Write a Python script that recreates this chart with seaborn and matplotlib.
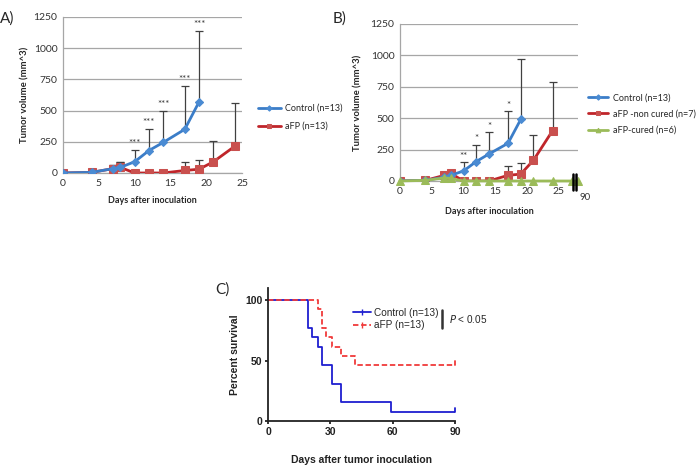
import numpy as np
import pandas as pd
import matplotlib
matplotlib.use("Agg")
import matplotlib.pyplot as plt
from matplotlib.lines import Line2D
import seaborn as sns

# ---- Panel A data ----
a_ctrl_days = [0, 4, 7, 8, 10, 12, 14, 17, 19]
a_ctrl_vol = [0, 5, 35, 45, 90, 180, 245, 350, 570]
a_ctrl_top = [0, 5, 60, 85, 185, 355, 500, 700, 1140]
a_afp_days = [0, 4, 7, 8, 10, 12, 14, 17, 19, 21, 24]
a_afp_vol = [0, 5, 35, 45, 0, 0, 0, 20, 30, 90, 215]
a_afp_top = [0, 5, 60, 85, 0, 0, 0, 85, 100, 255, 560]
a_star_days = [10, 12, 14, 17, 19]
a_star_text = ["***", "***", "***", "***", "***"]

# ---- Panel B data ----
b_ctrl_days = [0, 4, 7, 8, 10, 12, 14, 17, 19]
b_ctrl_vol = [0, 5, 30, 45, 80, 155, 215, 300, 490]
b_ctrl_top = [0, 5, 30, 45, 150, 290, 390, 555, 975]
b_nc_days = [0, 4, 7, 8, 10, 12, 14, 17, 19, 21, 24]
b_nc_vol = [0, 5, 45, 60, 0, 0, 0, 45, 55, 165, 400]
b_nc_top = [0, 5, 45, 60, 0, 0, 0, 120, 145, 365, 785]
b_cur_days = [0, 4, 7, 8, 10, 12, 14, 17, 19, 21, 24, 27, 90]
b_cur_vol = [0, 5, 25, 20, 0, 0, 0, 0, 0, 0, 0, 0, 0]
b_star_days = [10, 12, 14, 17]
b_star_text = ["**", "*", "*", "*"]
b_star_y = [150, 290, 390, 555]

# ---- Panel C data (Kaplan-Meier steps) ----
c_ctrl_t = [0, 19, 21, 24, 26, 31, 35, 59, 90]
c_ctrl_s = [100, 76.9, 69.2, 61.5, 46.2, 30.8, 15.4, 7.7, 7.7]
c_afp_t = [0, 24, 26, 28, 31, 35, 42, 90]
c_afp_s = [100, 92.3, 76.9, 69.2, 61.5, 53.8, 46.2, 46.2]

BLUE = "#3b7dc8"
BLUE_M = "#4a8bd3"
RED = "#c0252a"
RED_M = "#c9504e"
GREEN = "#9bbb59"
GRID = "#a6a6a6"
KM_BLUE = "#1f1fd0"
KM_RED = "#f03a3a"
EXF = ["Lato", "DejaVu Sans"]
ARF = ["Liberation Sans", "DejaVu Sans"]

sns.set_theme(style="white")
plt.rcParams["font.family"] = EXF

W, H = 698, 466
fig = plt.figure(figsize=(6.98, 4.66), dpi=100)


def fpos(px, py):
    # figure pixel -> figure fraction
    return (px / W, 1 - py / H)


def excel_axes(ax, xmax):
    ax.set_ylim(0, 1250)
    ax.set_xlim(0, xmax)
    ax.set_yticks([0, 250, 500, 750, 1000, 1250])
    ax.set_xticks([0, 5, 10, 15, 20, 25])
    ax.yaxis.grid(True, color=GRID, lw=0.9)
    ax.xaxis.grid(False)
    for s in ["top", "right"]:
        ax.spines[s].set_visible(False)
    for s in ["left", "bottom"]:
        ax.spines[s].set_color(GRID)
        ax.spines[s].set_linewidth(0.9)
    ax.tick_params(labelsize=7.5, length=0, pad=4, colors="#333333")
    ax.set_axisbelow(True)


def up_err(ax, days, vals, tops, color="#404040"):
    v = np.array(vals, dtype=float)
    t = np.array(tops, dtype=float)
    ax.errorbar(days, v, yerr=[np.zeros_like(v), t - v], fmt="none",
                ecolor=color, elinewidth=0.9, capsize=3, capthick=0.9, zorder=1)


# ---------- A ----------
axA = fig.add_axes([0.0903, 0.6288, 0.2565, 0.3348])
up_err(axA, a_ctrl_days, a_ctrl_vol, a_ctrl_top)
up_err(axA, a_afp_days, a_afp_vol, a_afp_top)
sns.lineplot(x=a_afp_days, y=a_afp_vol, ax=axA, color=RED, lw=2, marker="s",
             markersize=6, markerfacecolor=RED_M, markeredgecolor=RED_M,
             label="aFP (n=13)", zorder=3)
sns.lineplot(x=a_ctrl_days, y=a_ctrl_vol, ax=axA, color=BLUE, lw=2, marker="D",
             markersize=4.5, markerfacecolor=BLUE_M, markeredgecolor=BLUE_M,
             label="Control (n=13)", zorder=4)
excel_axes(axA, 25)
for d, txt in zip(a_star_days, a_star_text):
    top = a_ctrl_top[a_ctrl_days.index(d)]
    axA.text(d, top + 15, txt, ha="center", va="bottom", fontsize=7, color="#333333")
h, l = axA.get_legend_handles_labels()
axA.legend(h[::-1], l[::-1], loc="center left", bbox_to_anchor=fpos(258, 117.5),
           bbox_transform=fig.transFigure, borderpad=0, borderaxespad=0,
           frameon=False, fontsize=6.5, handlelength=2.5, handletextpad=0.5,
           labelspacing=1.0, markerscale=0.6)
axA.set_xlabel("Days after inoculation", fontsize=6.5, fontweight="bold", labelpad=6)
axA.set_ylabel("Tumor volume (mm^3)", fontsize=6.8, fontweight="bold", labelpad=3)
fig.text(0.0, 0.975, "A)", fontsize=11, va="top", ha="left")

# ---------- B ----------
axB = fig.add_axes([0.573, 0.6116, 0.255, 0.337])
up_err(axB, b_ctrl_days, b_ctrl_vol, b_ctrl_top)
up_err(axB, b_nc_days, b_nc_vol, b_nc_top)
cur_x = [d if d < 90 else 28.0 for d in b_cur_days]
sns.lineplot(x=b_nc_days, y=b_nc_vol, ax=axB, color=RED, lw=2, marker="s",
             markersize=6, markerfacecolor=RED_M, markeredgecolor=RED_M,
             label="aFP -non cured (n=7)", zorder=3)
sns.lineplot(x=b_ctrl_days, y=b_ctrl_vol, ax=axB, color=BLUE, lw=2, marker="D",
             markersize=4.5, markerfacecolor=BLUE_M, markeredgecolor=BLUE_M,
             label="Control (n=13)", zorder=4)
sns.lineplot(x=cur_x, y=b_cur_vol, ax=axB, color=GREEN, lw=2, marker="^",
             markersize=5.5, markerfacecolor=GREEN, markeredgecolor=GREEN,
             label="aFP-cured (n=6)", zorder=5, clip_on=False)
excel_axes(axB, 28)
for d, txt, y in zip(b_star_days, b_star_text, b_star_y):
    axB.text(d, y + 10, txt, ha="center", va="bottom", fontsize=7, color="#333333")
for bx in [27.3, 27.65]:
    axB.plot([bx, bx], [-70, 55], color="black", lw=1.8, clip_on=False, zorder=6)
axB.text(29.1, -95, "90", fontsize=7, ha="center", va="top", color="#333333",
         clip_on=False)
h, l = axB.get_legend_handles_labels()
order = [1, 0, 2]
axB.legend([h[i] for i in order], [l[i] for i in order], loc="center left",
           bbox_to_anchor=fpos(588, 114), bbox_transform=fig.transFigure,
           borderpad=0, borderaxespad=0, frameon=False, fontsize=6.5,
           handlelength=2.2, handletextpad=0.6, labelspacing=0.8, markerscale=0.6)
axB.set_xlabel("Days after inoculation", fontsize=6.5, fontweight="bold", labelpad=8)
axB.set_ylabel("Tumor volume (mm^3)", fontsize=6.8, fontweight="bold", labelpad=6)
fig.text(0.477, 0.975, "B)", fontsize=11, va="top", ha="left")

# ---------- C ----------
axC = fig.add_axes([0.384, 0.0966, 0.268, 0.2854])
km = pd.concat([
    pd.DataFrame({"t": c_ctrl_t, "s": c_ctrl_s, "g": "Control (n=13)"}),
    pd.DataFrame({"t": c_afp_t, "s": c_afp_s, "g": "aFP (n=13)"}),
])
sns.lineplot(data=km, x="t", y="s", hue="g", style="g",
             palette={"Control (n=13)": KM_BLUE, "aFP (n=13)": KM_RED},
             dashes={"Control (n=13)": "", "aFP (n=13)": (3, 1.5)},
             drawstyle="steps-post", lw=1.3, ax=axC, legend=False)
axC.plot([90, 90], [c_ctrl_s[-1], c_ctrl_s[-1] + 3], color=KM_BLUE, lw=1.3,
         clip_on=False)
axC.plot([90, 90], [c_afp_s[-1], c_afp_s[-1] + 3], color=KM_RED, lw=1.3,
         clip_on=False)
axC.set_xlim(0, 90)
axC.set_ylim(0, 110)
axC.set_xticks([0, 30, 60, 90])
axC.set_yticks([0, 50, 100])
for s in ["top", "right"]:
    axC.spines[s].set_visible(False)
for s in ["left", "bottom"]:
    axC.spines[s].set_color("#222222")
    axC.spines[s].set_linewidth(1.3)
axC.tick_params(direction="out", length=2.5, width=1.3, labelsize=7.5, pad=1.5,
                colors="#222222", bottom=True, left=True)
for lab in axC.get_xticklabels() + axC.get_yticklabels():
    lab.set_fontfamily(ARF)
    lab.set_fontweight("bold")
axC.set_xlabel("Days after tumor inoculation", fontsize=7.5, fontfamily=ARF,
               fontweight="bold", labelpad=13, color="#222222")
axC.set_ylabel("Percent survival", fontsize=7.5, fontfamily=ARF,
               fontweight="bold", labelpad=4, color="#222222")
hC = [Line2D([0], [0], color=KM_BLUE, lw=1.3, marker="|", markersize=5),
      Line2D([0], [0], color=KM_RED, lw=1.3, ls=(0, (3, 1.5)), marker="|",
             markersize=5)]
axC.legend(hC, ["Control (n=13)", "aFP (n=13)"], loc="center left",
           bbox_to_anchor=fpos(353, 319), bbox_transform=fig.transFigure,
           borderpad=0, borderaxespad=0, frameon=False, handlelength=1.75,
           handletextpad=0.4, labelspacing=0.25,
           prop={"family": ARF, "size": 7.2})
bx0, by0 = fpos(442, 310)
bx1, by1 = fpos(442, 328)
fig.add_artist(Line2D([bx0, bx1], [by0, by1], transform=fig.transFigure,
                      color="#333333", lw=1.8))
fig.text(*fpos(449, 319), "$P$ < 0.05", fontsize=7.2, fontfamily=ARF,
         va="center", ha="left")
fig.text(*fpos(215, 290), "C)", fontsize=11, va="center", ha="left")

fig.savefig("out.png", dpi=100)
